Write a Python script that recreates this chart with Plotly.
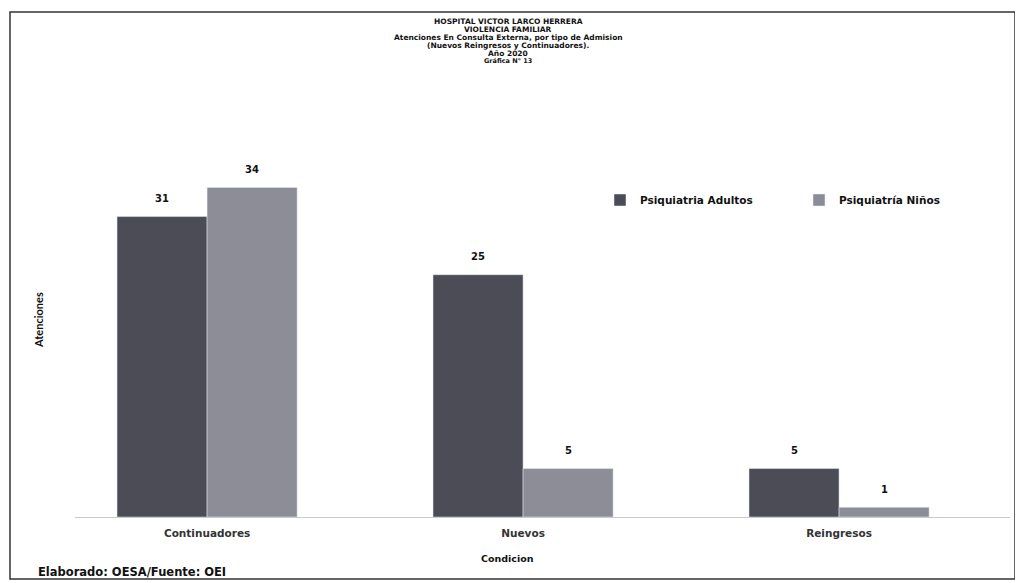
import plotly.graph_objects as go

categories = ["Continuadores", "Nuevos", "Reingresos"]
adultos = [31, 25, 5]
ninos = [34, 5, 1]
series_names = ["Psiquiatria Adultos", "Psiquiatría Niños"]
title_lines = ["HOSPITAL VICTOR LARCO HERRERA", "VIOLENCIA FAMILIAR",
               "Atenciones En Consulta Externa, por tipo de Admision",
               "(Nuevos Reingresos y Continuadores).", "Año 2020",
               "Gráfica N° 13"]
colors = ["#4b4c55", "#8c8d97"]

# page offset of the figure (body margin)
OFF = 8
W, H = 1023 - OFF, 583 - OFF
# desired page-pixel positions of the plot area
PL, PR, PT, PB = 75, 1010, 140, 517
L, R, T, B = PL - OFF, W - (PR - OFF), PT - OFF, H - (PB - OFF)
pw = PR - PL
ph = PB - PT

def px_x(x):
    return (x - PL) / pw

def px_y(y):
    return (PB - y) / ph

BOLD = "DejaVu Sans"

fig = go.Figure()
for name, vals, col in zip(series_names, [adultos, ninos], colors):
    fig.add_bar(x=categories, y=vals, name=name, marker_color=col)

annotations = []
# value labels
for vals, shift in [(adultos, -45), (ninos, 45)]:
    for c, v in zip(categories, vals):
        annotations.append(dict(text=f"<b>{v}</b>", x=c, y=v, xref="x", yref="y",
                                xshift=shift, yshift=18, showarrow=False,
                                yanchor="middle",
                                font=dict(family=BOLD, size=10, color="#111")))
# title lines
title_y = [21.5, 29.5, 37.5, 45.5, 53.5, 61]
title_sz = [7.5, 7.5, 7.5, 7.5, 7.5, 6.5]
for t, y, s in zip(title_lines, title_y, title_sz):
    annotations.append(dict(text=f"<b>{t}</b>", x=px_x(508), y=px_y(y),
                            xref="paper", yref="paper", showarrow=False,
                            xanchor="center", yanchor="middle",
                            font=dict(family=BOLD, size=s, color="#111")))
annotations += [
    dict(text="<b>Atenciones</b>", x=px_x(38), y=px_y(320), xref="paper",
         yref="paper", textangle=-90, showarrow=False, yanchor="middle",
         xanchor="center", font=dict(family="Lato", size=11, color="#111")),
    dict(text="<b>Condicion</b>", x=px_x(507), y=px_y(558), xref="paper",
         yref="paper", showarrow=False, yanchor="middle", xanchor="center",
         font=dict(family=BOLD, size=9.5, color="#111")),
    dict(text="<b>Elaborado: OESA/Fuente: OEI</b>", x=px_x(36), y=px_y(572),
         xref="paper", yref="paper", xanchor="left", yanchor="middle",
         showarrow=False, font=dict(family=BOLD, size=11.5, color="#111")),
]

fig.update_layout(
    width=W, height=H,
    margin=dict(l=L, r=R, t=T, b=B, autoexpand=False),
    paper_bgcolor="white", plot_bgcolor="white",
    barmode="group", bargap=0.43, bargroupgap=0,
    font=dict(family="Lato", color="#222"),
    showlegend=True,
    legend=dict(orientation="h", x=px_x(600), y=px_y(200), xanchor="left",
                yanchor="middle", entrywidth=154, entrywidthmode="pixels",
                font=dict(family=BOLD, size=10.5, color="#111", weight="bold"),
                bgcolor="rgba(0,0,0,0)", itemclick=False),
    xaxis=dict(range=[-0.418, 2.541], showline=True, linecolor="#c8c9d2",
               linewidth=1, ticks="", showgrid=False, automargin=False,
               ticklabelstandoff=6,
               tickfont=dict(family="DejaVu Sans", size=10.5, color="#333",
                             weight="bold")),
    yaxis=dict(range=[0, 38.9], showticklabels=False, showgrid=False,
               zeroline=False, ticks="", showline=False, automargin=False),
    annotations=annotations,
    shapes=[
        dict(type="rect", xref="paper", yref="paper",
             x0=px_x(10), x1=px_x(1015), y0=px_y(579), y1=px_y(12),
             line=dict(color="#333", width=1.5), fillcolor="rgba(0,0,0,0)",
             layer="below"),
    ],
)

fig.write_html("out.html")
